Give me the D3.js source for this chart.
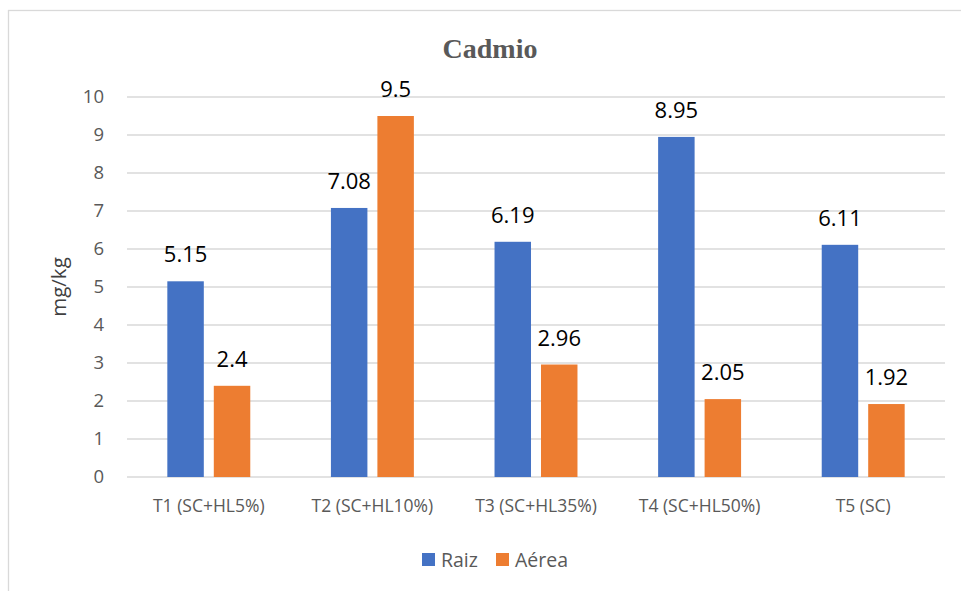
<!DOCTYPE html>
<html>
<head>
<meta charset="utf-8">
<script src="https://cdn.jsdelivr.net/npm/d3@7"></script>
<style>
  html, body { margin: 0; padding: 0; background: #fff; }
  svg { display: block; }
  text { font-family: "Open Sans", Lato, sans-serif; }
</style>
</head>
<body>
<svg id="chart" width="961" height="591"></svg>
<script>
// Cadmium content (mg/kg) per treatment, root vs aerial part
const categories = ["T1 (SC+HL5%)", "T2 (SC+HL10%)", "T3 (SC+HL35%)", "T4 (SC+HL50%)", "T5 (SC)"];
const seriesNames = ["Raiz", "Aérea"];
const raiz = [5.15, 7.08, 6.19, 8.95, 6.11];
const aerea = [2.4, 9.5, 2.96, 2.05, 1.92];
const yTicks = [0, 1, 2, 3, 4, 5, 6, 7, 8, 9, 10];
const colors = ["#4472C4", "#ED7D31"];

const svg = d3.select("#chart");
const W = 961, H = 591;
const margin = { left: 127, right: 16, top: 97, bottom: 114 };
const plotW = W - margin.left - margin.right;
const plotH = H - margin.top - margin.bottom;

// chart frame
svg.append("rect")
  .attr("x", 8.5).attr("y", 10.5)
  .attr("width", 1000).attr("height", 700)
  .attr("fill", "#fff").attr("stroke", "#d9d9d9").attr("stroke-width", 1.3);

const g = svg.append("g").attr("transform", `translate(${margin.left},${margin.top})`);

const x0 = d3.scaleBand().domain(categories).range([0, plotW]).paddingInner(0).paddingOuter(0);
const x1 = d3.scaleBand().domain(seriesNames)
  .range([x0.bandwidth() * 0.2465, x0.bandwidth() * 0.7535]).paddingInner(0.215);
const y = d3.scaleLinear().domain([0, 10]).range([plotH, 0]);

// horizontal gridlines
g.append("g").selectAll("line").data(yTicks).join("line")
  .attr("x1", 0).attr("x2", plotW)
  .attr("y1", d => y(d)).attr("y2", d => y(d))
  .attr("stroke", "#d9d9d9").attr("stroke-width", 1.5);

// y axis labels
const yAxis = g.append("g").call(d3.axisLeft(y).tickValues(yTicks).tickSize(0).tickPadding(23).tickFormat(d3.format("d")));
yAxis.select(".domain").remove();
yAxis.selectAll("text")
  .attr("fill", "#595959").style("font-size", "18.5px").style("font-family", "'Open Sans', sans-serif");

// x axis labels
const xAxis = g.append("g").attr("transform", `translate(0,${plotH})`)
  .call(d3.axisBottom(x0).tickSize(0).tickPadding(23));
xAxis.select(".domain").remove();
xAxis.selectAll("text")
  .attr("fill", "#595959").style("font-size", "17.5px").style("font-family", "'Open Sans', sans-serif");

// bars and value labels
const rows = categories.map((c, i) => ({ cat: c, vals: [
  { key: seriesNames[0], v: raiz[i], c: colors[0] },
  { key: seriesNames[1], v: aerea[i], c: colors[1] }
]}));

const groups = g.append("g").selectAll("g").data(rows).join("g")
  .attr("transform", d => `translate(${x0(d.cat)},0)`);

groups.selectAll("rect").data(d => d.vals).join("rect")
  .attr("x", d => x1(d.key))
  .attr("width", x1.bandwidth())
  .attr("y", d => y(d.v))
  .attr("height", d => y(0) - y(d.v))
  .attr("fill", d => d.c);

groups.selectAll("text.val").data(d => d.vals).join("text")
  .attr("class", "val")
  .attr("x", d => x1(d.key) + x1.bandwidth() / 2)
  .attr("y", d => y(d.v) - 19)
  .attr("text-anchor", "middle")
  .attr("fill", "#000")
  .style("font-size", "22px")
  .text(d => d3.format("")(d.v));

// y axis title
svg.append("text")
  .attr("transform", `translate(66,${margin.top + plotH / 2}) rotate(-90)`)
  .attr("text-anchor", "middle")
  .attr("fill", "#404040")
  .style("font-size", "20.5px")
  .text("mg/kg");

// chart title
svg.append("text")
  .attr("x", 490).attr("y", 58)
  .attr("text-anchor", "middle")
  .attr("fill", "#595959")
  .style("font-family", "'Liberation Serif', 'Times New Roman', serif")
  .style("font-weight", "bold")
  .style("font-size", "28px")
  .text("Cadmio");

// legend
const legend = svg.append("g");
const legendItems = [
  { name: seriesNames[0], c: colors[0], x: 422 },
  { name: seriesNames[1], c: colors[1], x: 496 }
];
const li = legend.selectAll("g").data(legendItems).join("g")
  .attr("transform", d => `translate(${d.x},553)`);
li.append("rect").attr("width", 13).attr("height", 13).attr("fill", d => d.c);
li.append("text").attr("x", 19).attr("y", 13.5)
  .attr("fill", "#595959").style("font-size", "19.5px")
  .text(d => d.name);
</script>
</body>
</html>
